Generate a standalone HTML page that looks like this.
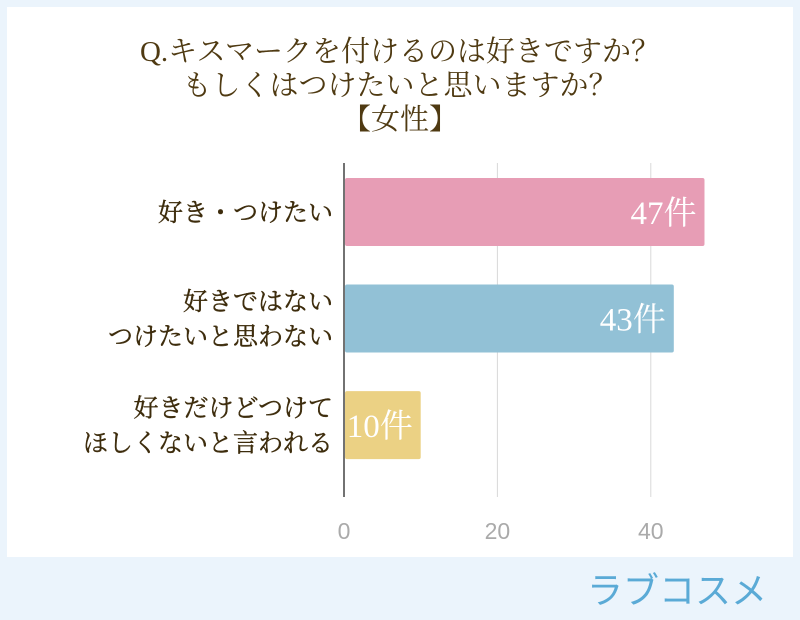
<!DOCTYPE html>
<html><head><meta charset="utf-8"><style>
body{margin:0;width:800px;height:620px;background:#ebf4fc;overflow:hidden;font-family:"Liberation Serif","Noto Serif CJK SC",serif}
#card{position:absolute;left:7px;top:7px;width:786px;height:550px;background:#fff}
</style></head><body>
<div id="card"></div>
<svg width="800" height="620" style="position:absolute;left:0;top:0">
<g fill="#4f3a12" font-size="29" text-anchor="middle">
<text x="400" y="61">Q.キスマークを付けるのは好きですか？</text>
<text x="400" y="95">もしくはつけたいと思いますか？</text>
<text x="400" y="129">【女性】</text>
</g>
<g id="grid"></g><g id="bars"></g><g id="labels"></g>
<text x="767" y="603" fill="#5aaad6" font-size="36" text-anchor="end" font-family="'Liberation Sans','Noto Sans CJK JP',sans-serif">ラブコスメ</text>
</svg>
<script>
const categories=[["好き・つけたい"],["好きではない","つけたいと思わない"],["好きだけどつけて","ほしくないと言われる"]];
const values=[47,43,10];
const valueLabels=["47件","43件","10件"];
const colors=["#e79db5","#92c1d6","#ebd184"];
const ticks=[0,20,40];
const NS="http://www.w3.org/2000/svg";
const x=v=>344+v*7.67;
const bandTop=163,band=111,barH=68;
function mk(t,a,p){const e=document.createElementNS(NS,t);for(const k in a)e.setAttribute(k,a[k]);p.appendChild(e);return e;}
const grid=document.getElementById('grid'),bars=document.getElementById('bars'),labels=document.getElementById('labels');
ticks.forEach(t=>{
 const l=mk('line',{x1:x(t),x2:x(t),y1:163,y2:497,stroke:t===0?'#444':'#d8d8d8','stroke-width':t===0?1.5:1},grid);
 
 
 const tx=mk('text',{x:x(t),y:539,fill:'#aaa','font-size':23,'text-anchor':'middle','font-family':'Liberation Sans,sans-serif'},grid);
 tx.textContent=t;
 
 
});
values.forEach((v,i)=>{
 const y=bandTop+15+i*band*0.96;
 const r=mk('rect',{x:x(0)+1,y:y,width:x(v)-x(0)-1,height:barH,fill:colors[i],rx:2},bars);
 
 
 const vt=mk('text',{x:x(v)-8,y:y+barH/2+12,fill:'#fff','font-size':33,'text-anchor':'end'},labels);
 vt.textContent=valueLabels[i];
 
 
 const lines=categories[i];
 lines.forEach((s,j)=>{
  const ct=mk('text',{x:333,y:y+barH/2+9+(j-(lines.length-1)/2)*35,fill:'#3d2c0c','font-size':25,'text-anchor':'end','stroke':'#3d2c0c','stroke-width':0.4},labels);
  ct.textContent=s;
  
  
 });
});
</script>
</body></html>
